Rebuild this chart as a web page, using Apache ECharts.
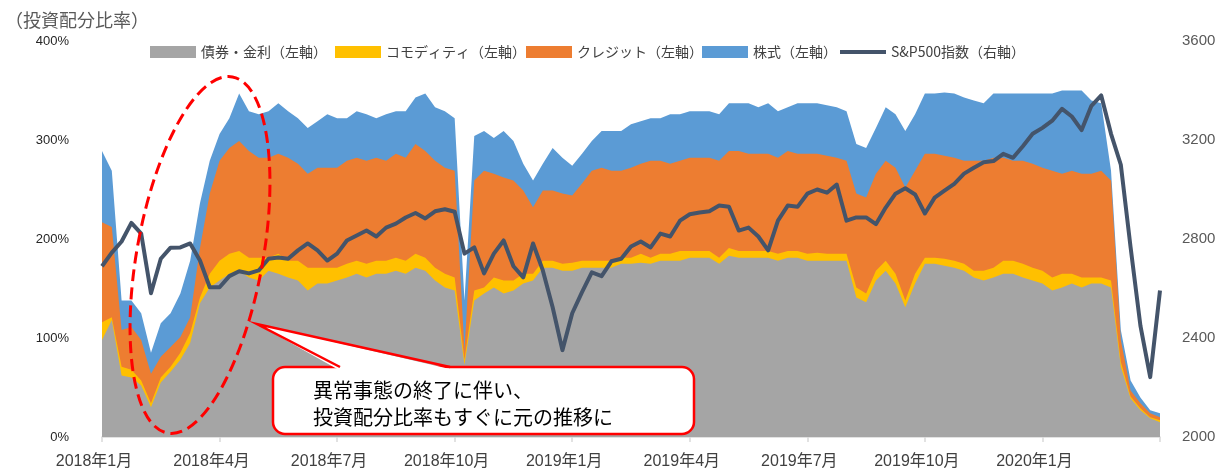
<!DOCTYPE html>
<html lang="ja">
<head>
    <meta charset="UTF-8">
    <title>投資配分比率とS&P500指数</title>
    <script src="https://cdn.jsdelivr.net/npm/echarts@6/dist/echarts.min.js"></script>
    <style>html, body { margin: 0; padding: 0; background: #fff; }</style>
</head>
<body>
<div id="pic1" style="width:1219px;height:470px;"></div>
<script>
    // 週次（0.25か月刻み）の読み取り値、2018年1月〜2020年3月末
    // 各資産の累積配分比率（%）：下から 債券・金利 → コモディティ → クレジット → 株式
    var bondCum = [
        98, 118, 62, 60, 52, 30, 55, 66, 78, 95, 135, 151,
        158, 165, 168, 161, 158, 168, 165, 161, 158, 148, 155, 155,
        158, 161, 165, 161, 165, 165, 168, 165, 171, 168, 158, 151,
        148, 73, 138, 145, 151, 145, 148, 155, 158, 171, 171, 168,
        168, 171, 171, 171, 171, 175, 175, 176, 175, 178, 178, 178,
        181, 181, 181, 175, 183, 181, 181, 181, 181, 178, 181, 181,
        178, 178, 178, 178, 178, 141, 136, 158, 168, 155, 131, 155,
        175, 175, 173, 171, 168, 161, 158, 161, 165, 165, 161, 158,
        155, 148, 151, 155, 151, 155, 155, 151, 71, 39, 27, 19,
        15
    ];
    var commodityCum = [
        116, 121, 71, 68, 57, 34, 60, 71, 85, 105, 141, 165,
        178, 185, 188, 181, 181, 181, 185, 178, 178, 171, 171, 171,
        171, 175, 178, 175, 178, 178, 181, 178, 185, 181, 171, 165,
        161, 78, 148, 151, 161, 158, 158, 165, 165, 178, 178, 175,
        176, 178, 178, 178, 178, 181, 181, 185, 181, 185, 185, 188,
        188, 188, 188, 181, 191, 188, 188, 188, 188, 185, 188, 188,
        185, 186, 185, 185, 185, 151, 145, 168, 178, 165, 138, 165,
        181, 181, 180, 178, 175, 168, 168, 171, 178, 178, 175, 171,
        168, 161, 165, 165, 161, 161, 161, 158, 76, 41, 29, 20,
        17
    ];
    var creditCum = [
        217, 212, 108, 111, 98, 64, 81, 91, 101, 121, 191, 246,
        279, 292, 299, 289, 282, 282, 286, 282, 276, 266, 272, 272,
        272, 279, 282, 279, 282, 279, 286, 282, 296, 289, 279, 272,
        269, 88, 259, 269, 266, 262, 259, 249, 232, 249, 249, 246,
        244, 256, 269, 272, 269, 269, 272, 276, 279, 279, 276, 279,
        282, 282, 282, 279, 289, 289, 286, 286, 286, 282, 289, 286,
        286, 286, 284, 282, 279, 246, 242, 266, 279, 272, 252, 269,
        286, 286, 284, 282, 279, 279, 279, 282, 282, 279, 279, 276,
        272, 269, 266, 269, 266, 266, 269, 259, 98, 47, 34, 24,
        20
    ];
    var equityCum = [
        289, 269, 138, 138, 125, 85, 115, 125, 145, 178, 236, 279,
        306, 322, 347, 329, 326, 329, 337, 329, 322, 312, 319, 326,
        322, 322, 329, 326, 322, 326, 329, 329, 343, 347, 333, 329,
        322, 138, 304, 309, 302, 309, 299, 276, 259, 276, 292, 282,
        274, 286, 299, 309, 309, 309, 316, 319, 322, 322, 326, 326,
        329, 329, 329, 326, 337, 337, 337, 333, 337, 329, 333, 337,
        337, 337, 335, 333, 329, 296, 292, 312, 333, 326, 309, 326,
        347, 347, 348, 347, 343, 340, 337, 347, 347, 347, 347, 347,
        347, 347, 350, 350, 350, 340, 337, 269, 108, 57, 40, 27,
        24
    ];
    // S&P500指数（右軸）
    var sp500 = [
        2690, 2745, 2790, 2865, 2822, 2581, 2720, 2765, 2766, 2782, 2713, 2605,
        2605, 2650, 2670, 2661, 2673, 2720, 2725, 2720, 2754, 2782, 2754, 2713,
        2741, 2794, 2814, 2834, 2810, 2846, 2862, 2887, 2905, 2883, 2912, 2920,
        2910, 2741, 2766, 2661, 2741, 2794, 2690, 2645, 2782, 2673, 2524, 2351,
        2500, 2585, 2665, 2650, 2710, 2720, 2770, 2790, 2766, 2822, 2810, 2874,
        2900, 2907, 2912, 2935, 2930, 2834, 2846, 2810, 2754, 2874, 2935, 2930,
        2983, 3000, 2987, 3020, 2874, 2887, 2887, 2860, 2927, 2983, 3005, 2980,
        2903, 2967, 2995, 3023, 3064, 3088, 3110, 3115, 3144, 3128, 3175, 3225,
        3249, 3278, 3326, 3295, 3240, 3338, 3380, 3225, 3100, 2766, 2450, 2242,
        2592
    ];

    var JP = "'Noto Sans CJK JP', sans-serif";
    var NUM = "'Liberation Sans', 'Noto Sans CJK JP', sans-serif";

    // x軸：2018年1月からの月数
    var months = bondCum.map(function (v, i) { return i * 0.25; });
    function pairs(arr) {
        return arr.map(function (v, i) { return [months[i], v]; });
    }

    var names = ['債券・金利（左軸）', 'コモディティ（左軸）', 'クレジット（左軸）', '株式（左軸）', 'S&P500指数（右軸）'];
    var colors = ['#a5a5a5', '#ffc000', '#ed7d31', '#5b9bd5', '#44546a'];
    var legendLeft = [145, 330, 521, 697, 835];

    var legends = names.map(function (n, i) {
        return {
            data: [{ name: n, icon: 'rect', itemStyle: { color: colors[i], borderWidth: 0 }, lineStyle: { width: 0 } }],
            left: legendLeft[i],
            top: 40,
            itemWidth: 46,
            itemHeight: i === 4 ? 4 : 12,
            itemGap: 0,
            selectedMode: false,
            textStyle: { fontFamily: JP, fontSize: 14, color: '#404040' }
        };
    });

    function areaSeries(name, color, data) {
        return {
            name: name,
            type: 'line',
            symbol: 'none',
            data: pairs(data),
            lineStyle: { width: 0 },
            itemStyle: { color: color },
            areaStyle: { color: color, opacity: 1 },
            z: 2
        };
    }

    var myChart = echarts.init(document.getElementById('pic1'));
    var option = {
        animation: false,
        backgroundColor: '#ffffff',
        title: {
            text: '（投資配分比率）',
            left: 0,
            top: 6,
            textStyle: { fontFamily: JP, fontSize: 18, fontWeight: 'normal', color: '#595959' }
        },
        legend: legends,
        grid: { left: 102, right: 59, top: 41, bottom: 33 },
        xAxis: {
            type: 'value',
            min: 0,
            max: 27,
            interval: 3,
            splitLine: { show: false },
            axisLine: { lineStyle: { color: '#d9d9d9', width: 1.5 } },
            axisTick: { show: true, length: 5, lineStyle: { color: '#d9d9d9', width: 1.5 } },
            axisLabel: {
                margin: 17,
                padding: [0, 16, 0, 0],
                fontFamily: NUM,
                fontSize: 16,
                color: '#404040',
                formatter: function (v) {
                    if (v >= 27) return '';
                    var y = 2018 + Math.floor(v / 12);
                    var m = v % 12 + 1;
                    return y + '年' + m + '月';
                }
            }
        },
        yAxis: [
            {
                type: 'value',
                min: 0,
                max: 400,
                interval: 100,
                splitLine: { show: false },
                axisLine: { show: false },
                axisTick: { show: false },
                axisLabel: { formatter: '{value}%', fontFamily: NUM, fontSize: 13, color: '#262626', margin: 33 }
            },
            {
                type: 'value',
                position: 'right',
                min: 2000,
                max: 3600,
                interval: 400,
                splitLine: { show: false },
                axisLine: { show: false },
                axisTick: { show: false },
                axisLabel: {
                    fontFamily: NUM, fontSize: 15, color: '#595959', margin: 22,
                    formatter: function (v) { return String(v); }
                }
            }
        ],
        series: [
            areaSeries(names[3], colors[3], equityCum),
            areaSeries(names[2], colors[2], creditCum),
            areaSeries(names[1], colors[1], commodityCum),
            areaSeries(names[0], colors[0], bondCum),
            {
                name: names[4],
                type: 'line',
                yAxisIndex: 1,
                symbol: 'none',
                data: pairs(sp500),
                itemStyle: { color: colors[4] },
                lineStyle: { color: colors[4], width: 4, join: 'round' },
                z: 3
            }
        ],
        graphic: [
            // 破線の楕円
            {
                type: 'ellipse',
                x: 200, y: 255,
                rotation: -0.18,
                shape: { cx: 0, cy: 0, rx: 63, ry: 181 },
                style: { fill: null, stroke: '#ff0000', lineWidth: 3, lineDash: [12, 6] },
                z: 100
            },
            // 吹き出し
            {
                type: 'rect',
                shape: { x: 273, y: 367, width: 421, height: 67, r: 12 },
                style: { fill: '#ffffff', stroke: '#ff0000', lineWidth: 2.5 },
                z: 100
            },
            {
                type: 'polygon',
                shape: { points: [[257, 324], [338, 369.5], [452, 369.5]] },
                style: { fill: '#ffffff' },
                z: 101
            },
            {
                type: 'polyline',
                shape: { points: [[340, 367], [257, 324], [450, 367]] },
                style: { fill: null, stroke: '#ff0000', lineWidth: 2.5 },
                z: 102
            },
            {
                type: 'text',
                x: 313, y: 390,
                style: { text: '異常事態の終了に伴い、', fontFamily: JP, fontSize: 20, fill: '#000000', verticalAlign: 'middle' },
                z: 103
            },
            {
                type: 'text',
                x: 313, y: 417,
                style: { text: '投資配分比率もすぐに元の推移に', fontFamily: JP, fontSize: 20, fill: '#000000', verticalAlign: 'middle' },
                z: 103
            }
        ]
    };
    myChart.setOption(option);
</script>
</body>
</html>
